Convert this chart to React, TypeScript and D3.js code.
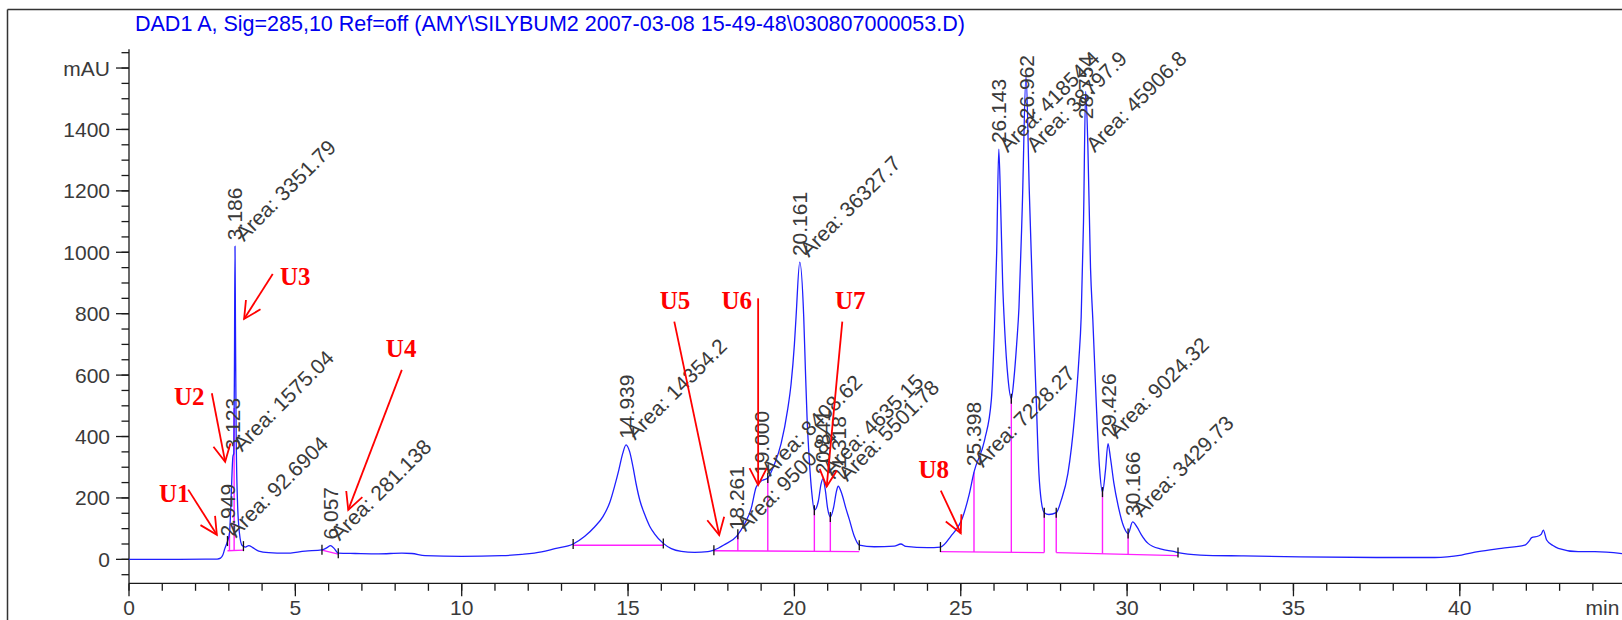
import React from 'react';
import * as d3 from 'd3';

const TITLE = 'DAD1 A, Sig=285,10 Ref=off (AMY\\SILYBUM2 2007-03-08 15-49-48\\030807000053.D)';

// chromatogram trace: time (min) and absorbance (mAU)
const signalTime = [
  0, 0.5, 1.5, 2.3, 2.65, 2.75, 2.82, 2.88, 2.949, 3.02, 3.07, 3.1, 3.123, 3.15, 3.17, 3.186, 3.2, 3.22, 3.26, 3.32,
  3.4, 3.5, 3.6, 3.72, 3.9, 4.2, 4.7, 5.3, 5.8, 5.95, 6.057, 6.17, 6.29, 6.8, 7.5, 8.2, 8.5, 8.9, 10, 11.2,
  11.8, 12.4, 12.8, 13.35, 13.7, 14.0, 14.25, 14.45, 14.6, 14.72, 14.84, 14.939, 15.05, 15.15, 15.24, 15.36, 15.49, 15.65, 15.79, 16.06,
  16.3, 16.6, 17.0, 17.4, 17.58, 17.9, 18.261, 18.5, 18.7, 18.85, 19.0, 19.2, 19.4, 19.6, 19.8, 19.9, 20.0, 20.05, 20.161, 20.28,
  20.33, 20.38, 20.45, 20.52, 20.6, 20.72, 20.8, 20.86, 20.93, 21.0, 21.08, 21.18, 21.26, 21.318, 21.42, 21.55, 21.65, 21.8, 21.95, 22.4,
  23.0, 23.2, 23.35, 24.0, 24.39, 24.7, 25.06, 25.25, 25.398, 25.72, 25.92, 26.01, 26.08, 26.143, 26.2, 26.26, 26.32, 26.42, 26.52, 26.6,
  26.68, 26.75, 26.85, 26.962, 27.06, 27.17, 27.27, 27.35, 27.42, 27.51, 27.65, 27.87, 28.02, 28.22, 28.42, 28.55, 28.62, 28.69, 28.754, 28.82,
  28.9, 28.97, 29.07, 29.17, 29.26, 29.35, 29.426, 29.5, 29.6, 29.73, 29.9, 30.03, 30.166, 30.3, 30.43, 30.63, 31.03, 31.43, 31.53, 32.2,
  33.5, 35.2, 37.5, 39.25, 40.05, 40.55, 41.25, 41.95, 42.1, 42.16, 42.36, 42.45, 42.51, 42.61, 42.8, 42.96, 43.56, 44.06, 45,
];
const signalMAU = [
  0, 0, 0, 0.5, 1, 4, 14, 35, 55, 85, 200, 290, 335, 345, 640, 1020, 760, 420, 190, 85,
  45, 40, 45, 38, 27, 22, 20, 27, 31, 38, 45, 35, 20, 19, 18, 20, 19, 12, 10, 12,
  16, 24, 35, 50, 75, 106, 140, 185, 240, 290, 345, 373, 350, 300, 247, 190, 149, 108, 84, 52,
  35, 26, 23, 25, 30, 48, 75, 115, 165, 235, 255, 265, 310, 377, 490, 571, 700, 790, 968, 790,
  620, 463, 320, 220, 160, 190, 245, 263, 225, 165, 138, 170, 220, 238, 215, 165, 130, 75, 46, 41,
  43, 50, 42, 38, 40, 75, 138, 210, 284, 390, 520, 744, 1000, 1336, 1150, 900, 750, 590, 523, 590,
  700, 820, 1150, 1578, 1200, 820, 517, 280, 190, 152, 146, 152, 193, 279, 463, 650, 790, 1100, 1524, 1350,
  950, 780, 517, 300, 219, 290, 377, 330, 250, 175, 106, 84, 122, 105, 80, 52, 33, 25, 22, 14,
  11, 8, 6, 6, 14, 25, 36, 46, 62, 71, 76, 82, 95, 63, 45, 36, 25, 25, 17,
];

// integrated peaks
const peakRT = [2.949, 3.123, 3.186, 6.057, 14.939, 18.261, 19.0, 20.161, 20.841, 21.318, 25.398, 26.143, 26.962, 28.754, 29.426, 30.166];
const peakArea = ['92.6904', '1575.04', '3351.79', '281.138', '14354.2', '9500.84', '8408.62', '36327.7', '4635.15', '5501.78', '7228.27', '41854.4', '38797.9', '45906.8', '9024.32', '3429.73'];

// integration baselines (start time, start mAU, end time, end mAU)
const baseStartT = [2.96, 5.8, 13.35, 17.58, 24.39, 27.87];
const baseStartV = [28, 30, 46, 28, 25, 22];
const baseEndT = [3.44, 6.29, 16.06, 21.95, 27.51, 31.53];
const baseEndV = [30, 17, 46, 25, 22, 12];
const dropTimes = [3.02, 3.16, 18.3, 19.2, 20.6, 21.08, 25.398, 26.52, 27.51, 27.87, 29.26, 30.03];
const eventTimes = [2.96, 3.44, 5.8, 6.29, 13.35, 16.06, 17.58, 18.3, 19.2, 20.6, 21.08, 21.95, 24.39, 26.52, 27.51, 27.87, 29.26, 30.03, 31.53];

// axes
const yMajorTicks = [0, 200, 400, 600, 800, 1000, 1200, 1400, 1600];
const yTickLabels = ['0', '200', '400', '600', '800', '1000', '1200', '1400', 'mAU'];
const yMinorTicks = d3.range(-50, 1651, 50);
const xMajorTicks = [0, 5, 10, 15, 20, 25, 30, 35, 40];
const xTickLabels = ['0', '5', '10', '15', '20', '25', '30', '35', '40'];
const xMinorTicks = d3.range(0, 45, 1);
const xUnit = 'min';
const xUnitAt = 43.78;

// red annotations (data coordinates)
const annoNames = ['U1', 'U2', 'U3', 'U4', 'U5', 'U6', 'U7', 'U8'];
const annoTextT = [0.9, 1.35, 4.54, 7.72, 15.95, 17.81, 21.22, 23.73];
const annoTextV = [188, 503, 894, 659, 814, 815, 815, 265];
const arrowFromT = [1.78, 2.49, 4.32, 8.2, 16.39, 18.91, 21.44, 24.4];
const arrowFromV = [227, 541, 929, 617, 774, 850, 774, 224];
const arrowToT = [2.64, 2.89, 3.46, 6.59, 17.74, 18.91, 20.97, 25.0];
const arrowToV = [80, 318, 783, 161, 79, 242, 237, 85];

const SANS = '"Liberation Sans", Arial, sans-serif';
const SERIF = '"Liberation Serif", "Times New Roman", serif';
const LABEL_SIZE = 21;

let ctx: CanvasRenderingContext2D | null = null;
function measure(s: string, size: number) {
  if (!ctx) ctx = document.createElement('canvas').getContext('2d');
  if (!ctx) return s.length * size * 0.55;
  ctx.font = `${size}px "Liberation Sans", Arial, sans-serif`;
  return ctx.measureText(s).width;
}

export default function App() {
  const W = 1622;
  const H = 620;
  const x = d3.scaleLinear().domain([0, 45]).range([129, 129 + 45 * 33.27]);
  const y = d3.scaleLinear().domain([-78, 1661]).range([583.3, 49.3]);

  const pts: [number, number][] = signalTime.map((t, i) => [t, signalMAU[i]]);
  const line = d3
    .line<[number, number]>()
    .x((d) => x(d[0]))
    .y((d) => y(d[1]))
    .curve(d3.curveMonotoneX);

  const bis = d3.bisector((d: [number, number]) => d[0]).left;
  const valueAt = (t: number) => {
    const i = Math.max(1, Math.min(pts.length - 1, bis(pts, t)));
    const a = pts[i - 1];
    const b = pts[i];
    const f = (t - a[0]) / (b[0] - a[0]);
    return a[1] + f * (b[1] - a[1]);
  };
  const baseAt = (t: number) => {
    for (let i = 0; i < baseStartT.length; i++) {
      if (t >= baseStartT[i] - 1e-6 && t <= baseEndT[i] + 1e-6) {
        const f = (t - baseStartT[i]) / (baseEndT[i] - baseStartT[i]);
        return baseStartV[i] + f * (baseEndV[i] - baseStartV[i]);
      }
    }
    return 25;
  };

  const axisColor = '#1a1a1a';
  const textColor = '#3a3a3a';
  const xLabelBaseline = 614.5;

  return (
    <svg
      width={W}
      height={H}
      style={{ position: 'fixed', left: 0, top: 0, background: '#fff' }}
      xmlns="http://www.w3.org/2000/svg"
    >
      <rect x={0} y={0} width={W} height={H} fill="#fff" />
      {/* frame */}
      <line x1={7.5} y1={9.5} x2={W} y2={9.5} stroke="#333" strokeWidth={1.5} />
      <line x1={7.5} y1={9.5} x2={7.5} y2={H} stroke="#333" strokeWidth={1.5} />

      {/* title */}
      <text x={135} y={31} fontFamily={SANS} fontSize={21.5} fill="#0000f0">
        {TITLE}
      </text>

      {/* y axis */}
      <line x1={x(0)} y1={y(1661)} x2={x(0)} y2={y(-78)} stroke={axisColor} strokeWidth={1.3} />
      {yMinorTicks.map((v) => (
        <line key={'ym' + v} x1={x(0) - 7.5} x2={x(0)} y1={y(v)} y2={y(v)} stroke={axisColor} strokeWidth={1.3} />
      ))}
      {yMajorTicks.map((v, i) => (
        <g key={'yM' + v}>
          <line x1={x(0) - 13} x2={x(0)} y1={y(v)} y2={y(v)} stroke={axisColor} strokeWidth={1.3} />
          <text x={x(0) - 19} y={y(v) + 7.5} textAnchor="end" fontFamily={SANS} fontSize={LABEL_SIZE} fill={textColor}>
            {yTickLabels[i]}
          </text>
        </g>
      ))}

      {/* x axis */}
      <line x1={x(0)} y1={y(-78)} x2={W} y2={y(-78)} stroke={axisColor} strokeWidth={1.3} />
      {xMinorTicks.map((t) => (
        <line key={'xm' + t} x1={x(t)} x2={x(t)} y1={y(-78)} y2={y(-78) + 7.5} stroke={axisColor} strokeWidth={1.3} />
      ))}
      {xMajorTicks.map((t, i) => (
        <g key={'xM' + t}>
          <line x1={x(t)} x2={x(t)} y1={y(-78)} y2={y(-78) + 13} stroke={axisColor} strokeWidth={1.3} />
          <text x={x(t)} y={xLabelBaseline} textAnchor="middle" fontFamily={SANS} fontSize={LABEL_SIZE} fill={textColor}>
            {xTickLabels[i]}
          </text>
        </g>
      ))}
      <text x={x(xUnitAt)} y={xLabelBaseline} fontFamily={SANS} fontSize={LABEL_SIZE} fill={textColor}>
        {xUnit}
      </text>

      {/* integration baselines */}
      {baseStartT.map((t, i) => (
        <line
          key={'bl' + i}
          x1={x(t)}
          y1={y(baseStartV[i])}
          x2={x(baseEndT[i])}
          y2={y(baseEndV[i])}
          stroke="#ff20ff"
          strokeWidth={1.4}
        />
      ))}
      {dropTimes.map((t, i) => (
        <line key={'dr' + i} x1={x(t)} x2={x(t)} y1={y(baseAt(t))} y2={y(valueAt(t))} stroke="#ff20ff" strokeWidth={1.4} />
      ))}

      {/* signal */}
      <path d={line(pts) || ''} fill="none" stroke="#1f1fff" strokeWidth={1.3} strokeLinejoin="round" />

      {/* peak event ticks */}
      {eventTimes.map((t, i) => (
        <line key={'ev' + i} x1={x(t)} x2={x(t)} y1={y(valueAt(t)) - 5} y2={y(valueAt(t)) + 5} stroke="#111" strokeWidth={1.3} />
      ))}

      {/* peak labels */}
      {peakRT.map((t, i) => {
        const rt = t.toFixed(3);
        const area = 'Area: ' + peakArea[i];
        const py = y(valueAt(t));
        const px = x(t);
        const wRt = measure(rt, LABEL_SIZE);
        const wAr = measure(area, LABEL_SIZE);
        const rtBottom = Math.max(py - 6, 55 + wRt);
        const arY = Math.max(py - 4, 60 + wAr * Math.SQRT1_2);
        return (
          <g key={'pk' + i} fontFamily={SANS} fontSize={LABEL_SIZE} fill={textColor}>
            <text transform={`translate(${px + 7.5},${rtBottom}) rotate(-90)`}>{rt}</text>
            <text transform={`translate(${px + 9},${arY}) rotate(-45)`}>{area}</text>
          </g>
        );
      })}

      {/* red annotations */}
      {annoNames.map((name, i) => {
        const x1 = x(arrowFromT[i]);
        const y1 = y(arrowFromV[i]);
        const x2 = x(arrowToT[i]);
        const y2 = y(arrowToV[i]);
        const ang = Math.atan2(y1 - y2, x1 - x2);
        const L = 19;
        const s = (27 * Math.PI) / 180;
        const hx1 = x2 + L * Math.cos(ang + s);
        const hy1 = y2 + L * Math.sin(ang + s);
        const hx2 = x2 + L * Math.cos(ang - s);
        const hy2 = y2 + L * Math.sin(ang - s);
        return (
          <g key={'an' + i}>
            <text x={x(annoTextT[i])} y={y(annoTextV[i])} fontFamily={SERIF} fontWeight="bold" fontSize={25} fill="#ff0000">
              {name}
            </text>
            <line x1={x1} y1={y1} x2={x2} y2={y2} stroke="#ff0000" strokeWidth={1.8} />
            <polyline points={`${hx1},${hy1} ${x2},${y2} ${hx2},${hy2}`} fill="none" stroke="#ff0000" strokeWidth={1.8} />
          </g>
        );
      })}
    </svg>
  );
}
